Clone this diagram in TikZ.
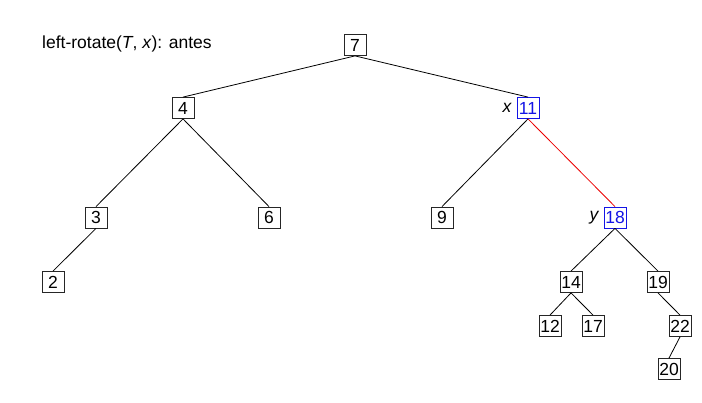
\documentclass[tikz,border=0pt]{standalone}
\usepackage{fontspec}
\setmainfont{Liberation Sans}
\definecolor{nodeblue}{RGB}{20,20,230}
\definecolor{edgered}{RGB}{235,0,0}
\begin{document}
\begin{tikzpicture}[x=1pt,y=-1pt,
  key/.style={draw=black!85,line width=0.8pt,minimum width=22pt,minimum height=21pt,inner sep=0.5pt,font=\fontsize{17.5}{19}\selectfont,fill=white},
  hot/.style={key,draw=nodeblue,text=nodeblue},
  lbl/.style={font=\fontsize{17.5}{19}\selectfont\itshape,inner sep=0pt},
  edge/.style={line width=0.8pt,black},
  redge/.style={line width=0.8pt,edgered}]
\useasboundingbox (0,0) rectangle (702,403);
\node[anchor=base west,inner sep=0pt,font=\fontsize{17.5}{19}\selectfont] (title) at (42,48.5) {left-rotate(\textit{T}, \textit{x}): antes};
\node[key] (n7) at (355,45) {7};
\node[key] (n4) at (183,108) {4};
\node[hot] (n11) at (528,108) {11};
\node[key] (n3) at (96,217.5) {3};
\node[key] (n6) at (269,217.5) {6};
\node[key] (n9) at (442,217.5) {9};
\node[hot] (n18) at (615,217.5) {18};
\node[key] (n2) at (53,282) {2};
\node[key] (n14) at (571,282) {14};
\node[key] (n19) at (658,282) {19};
\node[key] (n12) at (550,326) {12};
\node[key] (n17) at (593,326) {17};
\node[key] (n22) at (680,326) {22};
\node[key] (n20) at (669,369) {20};
\node[lbl,anchor=east] (lx) at ([xshift=-5pt]n11.west) {x};
\node[lbl,anchor=east] (ly) at ([xshift=-5pt]n18.west) {y};
\draw[edge] (n7.south) -- (n4.north);
\draw[edge] (n7.south) -- (n11.north);
\draw[edge] (n4.south) -- (n3.north);
\draw[edge] (n4.south) -- (n6.north);
\draw[edge] (n11.south) -- (n9.north);
\draw[redge] (n11.south) -- (n18.north);
\draw[edge] (n3.south) -- (n2.north);
\draw[edge] (n18.south) -- (n14.north);
\draw[edge] (n18.south) -- (n19.north);
\draw[edge] (n14.south) -- (n12.north);
\draw[edge] (n14.south) -- (n17.north);
\draw[edge] (n19.south) -- (n22.north);
\draw[edge] (n22.south) -- (n20.north);
\end{tikzpicture}
\end{document}
